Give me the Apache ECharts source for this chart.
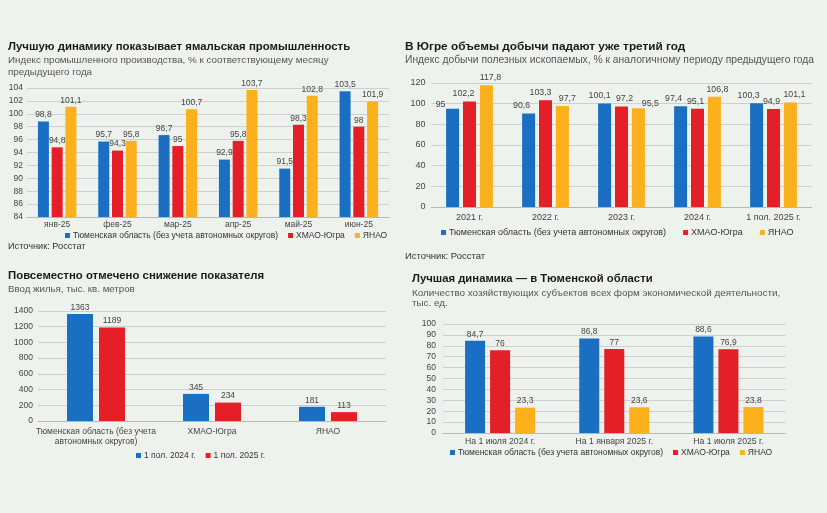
<!DOCTYPE html>
<html><head><meta charset="utf-8">
<script src="https://cdn.jsdelivr.net/npm/echarts@6/dist/echarts.min.js"></script>
<style>html,body{margin:0;padding:0;background:#edf2ed}#c{width:827px;height:513px}</style>
</head><body><div id="c"></div>
<script>
// Chart 1: industrial production index
const c1Categories = ['янв-25','фев-25','мар-25','апр-25','май-25','июн-25'];
const c1Tyumen = [98.8, 95.7, 96.7, 92.9, 91.5, 103.5];
const c1Khmao  = [94.8, 94.3, 95, 95.8, 98.3, 98];
const c1Yanao  = [101.1, 95.8, 100.7, 103.7, 102.8, 101.9];
const c1Axis = [84, 104, 2];
// Chart 2: mining index
const c2Categories = ['2021 г.','2022 г.','2023 г.','2024 г.','1 пол. 2025 г.'];
const c2Tyumen = [95, 90.6, 100.1, 97.4, 100.3];
const c2Khmao  = [102.2, 103.3, 97.2, 95.1, 94.9];
const c2Yanao  = [117.8, 97.7, 95.5, 106.8, 101.1];
const c2Axis = [0, 120, 20];
// Chart 3: housing
const c3Categories = ['Тюменская область (без учета\nавтономных округов)','ХМАО-Югра','ЯНАО'];
const c3H1_2024 = [1363, 345, 181];
const c3H1_2025 = [1189, 234, 113];
const c3Axis = [0, 1400, 200];
// Chart 4: business entities
const c4Categories = ['На 1 июля 2024 г.','На 1 января 2025 г.','На 1 июля 2025 г.'];
const c4Tyumen = [84.7, 86.8, 88.6];
const c4Khmao  = [76, 77, 76.9];
const c4Yanao  = [23.3, 23.6, 23.8];
const c4Axis = [0, 100, 10];

const S_TYU = 'Тюменская область (без учета автономных округов)';
const S_KH = 'ХМАО-Югра';
const S_YA = 'ЯНАО';
const S_24 = '1 пол. 2024 г.';
const S_25 = '1 пол. 2025 г.';
const BLUE = '#1b6fc3', RED = '#e41f28', ORANGE = '#fbb01c';
const FONT = 'Liberation Sans, Arial, sans-serif';

// label nudges (style only) to mimic the spread-out labels of chart 2
const c2LabelNudge = {
  tyu: { 0: [-12, 3], 1: [-7, 0], 2: [-5, 0], 3: [-7, 0], 4: [-8, 0] },
  kh:  { 0: [-6, 0], 1: [-5, 0], 2: [3, 0], 3: [-2, 0], 4: [-2, 0] },
  ya:  { 0: [4, 0], 1: [5, 0], 2: [12, 3], 3: [3, 0], 4: [4, 0] }
};

function bar(name, data, idx, color, w, gap, fs, nudge, dist) {
  const items = data.map((v, i) => {
    if (nudge && nudge[i]) return { value: v, label: { offset: nudge[i] } };
    return v;
  });
  return {
    type: 'bar', name, data: items, xAxisIndex: idx, yAxisIndex: idx,
    barWidth: w, barGap: gap,
    itemStyle: { color },
    label: { show: true, position: 'top', distance: dist || 2, fontSize: fs || 8.5, color: '#444', fontFamily: FONT,
      formatter: p => String(p.value).replace('.', ',') }
  };
}
function xAx(idx, data, margin, fs) {
  return { type: 'category', gridIndex: idx, data,
    axisLine: { lineStyle: { color: '#b8b8b8' } }, axisTick: { show: false },
    axisLabel: { fontSize: fs || 8.5, color: '#444', margin, fontFamily: FONT, lineHeight: 10, interval: 0 } };
}
function yAx(idx, a, margin, fs) {
  return { type: 'value', gridIndex: idx, min: a[0], max: a[1], interval: a[2],
    axisLine: { show: false }, axisTick: { show: false },
    splitLine: { lineStyle: { color: '#cfcfcf' } },
    axisLabel: { fontSize: fs || 8.5, color: '#444', margin, fontFamily: FONT, formatter: v => String(v) } };
}
function ttl(text, left, top, size, bold, color) {
  return { text, left, top, padding: 0,
    textStyle: { fontSize: size, fontWeight: bold ? 'bold' : 'normal', color, fontFamily: FONT } };
}
function leg(data, left, top, gap, fs) {
  return { data, left, top, itemWidth: 5, itemHeight: 5, icon: 'rect', itemGap: gap, padding: 0,
    selectedMode: false,
    textStyle: { fontSize: fs, color: '#333', fontFamily: FONT, padding: [0, 0, 0, -2] } };
}

const chart = echarts.init(document.getElementById('c'));
chart.setOption({
  backgroundColor: '#edf2ed',
  animation: false,
  title: [
    ttl('Лучшую динамику показывает ямальская промышленность', 8, 41, 11.4, true, '#1a1a1a'),
    ttl('Индекс промышленного производства, % к соответствующему месяцу', 8, 55, 9.8, false, '#555'),
    ttl('предыдущего года', 8, 67, 9.8, false, '#555'),
    ttl('Источник: Росстат', 8, 242, 9.2, false, '#333'),
    ttl('В Югре объемы добычи падают уже третий год', 405, 41, 11.8, true, '#1a1a1a'),
    ttl('Индекс добычи полезных ископаемых, % к аналогичному периоду предыдущего года', 405, 55, 10.3, false, '#555'),
    ttl('Источник: Росстат', 405, 251, 9.5, false, '#333'),
    ttl('Повсеместно отмечено снижение показателя', 8, 270, 11.4, true, '#1a1a1a'),
    ttl('Ввод жилья, тыс. кв. метров', 8, 284, 9.7, false, '#555'),
    ttl('Лучшая динамика — в Тюменской области', 412, 273, 11.3, true, '#1a1a1a'),
    ttl('Количество хозяйствующих субъектов всех форм экономической деятельности,', 412, 288, 9.9, false, '#555'),
    ttl('тыс. ед.', 412, 298, 9.9, false, '#555')
  ],
  legend: [
    leg([S_TYU, S_KH, S_YA], 65, 231, 10, 8.5),
    leg([S_TYU, S_KH, S_YA], 441, 228, 17, 9),
    leg([S_24, S_25], 136, 451, 10, 8.5),
    leg([S_TYU, S_KH, S_YA], 450, 448, 10, 8.5)
  ],
  grid: [
    { left: 27, right: 438, top: 88, bottom: 296 },
    { left: 431.5, right: 15.5, top: 83, bottom: 306 },
    { left: 38, right: 441, top: 311, bottom: 92 },
    { left: 443, right: 41.5, top: 324, bottom: 80 }
  ],
  xAxis: [ xAx(0, c1Categories, 3), xAx(1, c2Categories, 6, 9), xAx(2, c3Categories, 6), xAx(3, c4Categories, 4, 8.7) ],
  yAxis: [ yAx(0, c1Axis, 4), yAx(1, c2Axis, 6, 9), yAx(2, c3Axis, 5), yAx(3, c4Axis, 7) ],
  series: [
    bar(S_TYU, c1Tyumen, 0, BLUE, 11, '25%'),
    bar(S_KH, c1Khmao, 0, RED, 11, '25%'),
    bar(S_YA, c1Yanao, 0, ORANGE, 11, '25%'),
    bar(S_TYU, c2Tyumen, 1, BLUE, 13, '30%', 8.8, c2LabelNudge.tyu, 3),
    bar(S_KH, c2Khmao, 1, RED, 13, '30%', 8.8, c2LabelNudge.kh, 3),
    bar(S_YA, c2Yanao, 1, ORANGE, 13, '30%', 8.8, c2LabelNudge.ya, 3),
    bar(S_24, c3H1_2024, 2, BLUE, 26, '23%'),
    bar(S_25, c3H1_2025, 2, RED, 26, '23%'),
    bar(S_TYU, c4Tyumen, 3, BLUE, 20, '25%'),
    bar(S_KH, c4Khmao, 3, RED, 20, '25%'),
    bar(S_YA, c4Yanao, 3, ORANGE, 20, '25%')
  ]
});
</script></body></html>
